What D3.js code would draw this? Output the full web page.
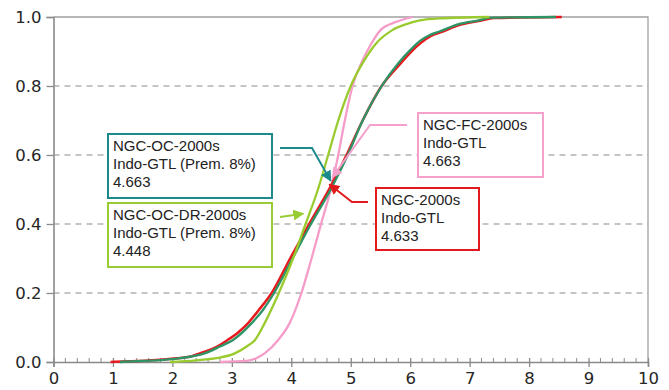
<!DOCTYPE html>
<html>
<head>
<meta charset="utf-8">
<script src="https://cdn.jsdelivr.net/npm/d3@7"></script>
<style>
  html, body { margin: 0; padding: 0; background: #fff; }
  svg { display: block; }
  .tick text { font-family: "DejaVu Sans", sans-serif; font-size: 16.5px; fill: #262626; }
  .note { font-family: "Liberation Sans", Arial, sans-serif; font-size: 15px; fill: #222; }
</style>
</head>
<body>
<svg id="chart" width="669" height="390"></svg>
<script>
// Cumulative distributions of GTL cost, [value, cumulative probability]
const ngc2000s = [
  [0.96,0],[1.3,0.002],[1.73,0.006],[2.07,0.011],[2.29,0.015],[2.46,0.025],[2.7,0.04],
  [2.93,0.064],[3.1,0.085],[3.27,0.112],[3.45,0.15],[3.67,0.2],[3.98,0.3],[4.3,0.4],
  [4.633,0.5],[4.93,0.6],[5.2,0.7],[5.52,0.8],[5.82,0.862],[6.02,0.9],[6.18,0.925],
  [6.35,0.945],[6.52,0.956],[6.85,0.978],[7.2,0.99],[7.4,0.997],[8.55,1]
];
const ngcOc2000s = [
  [1.12,0],[1.5,0.003],[1.85,0.006],[2.13,0.011],[2.54,0.025],[2.8,0.045],[3.02,0.064],
  [3.33,0.112],[3.52,0.15],[3.71,0.2],[4.02,0.3],[4.33,0.4],[4.663,0.5],[4.95,0.6],
  [5.2,0.7],[5.52,0.8],[5.8,0.866],[6.0,0.904],[6.16,0.93],[6.33,0.948],[6.49,0.958],
  [6.83,0.98],[7.17,0.991],[7.35,0.998],[8.45,1]
];
const ngcOcDr2000s = [
  [1.96,0],[2.4,0.005],[2.74,0.011],[3.05,0.025],[3.25,0.045],[3.39,0.064],[3.55,0.112],
  [3.79,0.2],[4.03,0.3],[4.24,0.4],[4.448,0.5],[4.62,0.6],[4.79,0.7],
  [5.0,0.8],[5.23,0.875],[5.43,0.924],[5.7,0.962],[5.95,0.98],[6.16,0.99],[6.49,0.996],
  [7.33,1]
];
const ngcFc2000s = [
  [2.8,0],[3.25,0.003],[3.41,0.011],[3.55,0.025],[3.78,0.064],[3.97,0.112],[4.17,0.2],
  [4.34,0.3],[4.5,0.4],[4.663,0.5],[4.79,0.6],[4.9,0.7],[5.03,0.8],
  [5.2,0.875],[5.35,0.924],[5.5,0.962],[5.75,0.985],[6.04,1]
];

const seriesNames = ["NGC-FC-2000s", "NGC-2000s", "NGC-OC-2000s", "NGC-OC-DR-2000s"];
const seriesColors = ["#f59cc8", "#e8191e", "#2e9466", "#9acb2e"];
const seriesData = [ngcFc2000s, ngc2000s, ngcOc2000s, ngcOcDr2000s];

const xTicks = [0,1,2,3,4,5,6,7,8,9,10];
const yTicks = [0,0.2,0.4,0.6,0.8,1.0];

// Callout texts: median of each distribution
const noteLines = [
  ["NGC-OC-2000s", "Indo-GTL (Prem. 8%)", "4.663"],
  ["NGC-OC-DR-2000s", "Indo-GTL (Prem. 8%)", "4.448"],
  ["NGC-FC-2000s", "Indo-GTL", "4.663"],
  ["NGC-2000s", "Indo-GTL", "4.633"]
];

const svg = d3.select("#chart");
const x = d3.scaleLinear().domain([0, 10]).range([53.5, 648]);
const y = d3.scaleLinear().domain([0, 1]).range([362, 17]);
const axisColor = "#8a8a8a";

// dashed horizontal grid
svg.append("g").selectAll("line")
  .data(yTicks.filter(t => t > 0 && t < 1))
  .join("line")
  .attr("x1", x(0)).attr("x2", x(10))
  .attr("y1", d => y(d)).attr("y2", d => y(d))
  .attr("stroke", "#8c8c8c").attr("stroke-width", 1.2)
  .attr("stroke-dasharray", "6,5");

// frame: top and right edges
svg.append("path")
  .attr("d", `M${x(0)},${y(1)}H${x(10)}V${y(0)}`)
  .attr("fill", "none").attr("stroke", "#a0a0a0").attr("stroke-width", 1.3);

// y axis
const yAxis = svg.append("g")
  .attr("transform", `translate(${x(0)},0)`)
  .call(d3.axisLeft(y).tickValues(yTicks).tickFormat(d3.format(".1f")).tickSize(7).tickPadding(5));
yAxis.select(".domain").attr("stroke", axisColor).attr("stroke-width", 1.6);
yAxis.selectAll(".tick line").attr("stroke", axisColor).attr("stroke-width", 1.3);

// x axis minor ticks (upward)
svg.append("g").selectAll("line")
  .data(d3.range(0, 50).map(i => i * 0.2).filter(v => Math.abs(v - Math.round(v)) > 1e-6))
  .join("line")
  .attr("x1", d => x(d)).attr("x2", d => x(d))
  .attr("y1", y(0)).attr("y2", y(0) - 4)
  .attr("stroke", axisColor).attr("stroke-width", 1);

// x axis
const xAxis = svg.append("g")
  .attr("transform", `translate(0,${y(0)})`)
  .call(d3.axisBottom(x).tickValues(xTicks).tickFormat(d3.format("d")).tickSize(5).tickPadding(5));
xAxis.select(".domain").attr("stroke", axisColor).attr("stroke-width", 1.6);
xAxis.selectAll(".tick line").attr("stroke", axisColor).attr("stroke-width", 1.3)
  .attr("y1", -4);

// distribution curves
const line = d3.line().x(d => x(d[0])).y(d => y(d[1])).curve(d3.curveMonotoneX);
svg.append("g").selectAll("path")
  .data(seriesData)
  .join("path")
  .attr("d", line)
  .attr("fill", "none")
  .attr("stroke", (d, i) => seriesColors[i])
  .attr("stroke-width", (d, i) => i === 1 ? 2.5 : 2.3)
  .attr("stroke-linejoin", "round");

// callouts: boxes, labels and arrows to the curves
const callouts = [
  { box: [108, 134, 164, 64], color: "#1c8a8c", path: [[280, 148], [312, 148]], tip: [4.663, 0.525] },
  { box: [108, 203, 164, 64], color: "#99cc33", path: [[280, 217]], tip: [4.2, 0.43] },
  { box: [418, 113, 125, 64], color: "#f5a0cb", path: [[407, 125], [370, 125]], tip: [4.69, 0.535] },
  { box: [376, 188, 103, 62], color: "#e31a1c", path: [[368, 202], [352, 202]], tip: [4.64, 0.515] }
];

const defs = svg.append("defs");
callouts.forEach((c, i) => {
  defs.append("marker")
    .attr("id", "arrow" + i)
    .attr("viewBox", "0 0 10 10")
    .attr("refX", 9).attr("refY", 5)
    .attr("markerWidth", 5.5).attr("markerHeight", 5.5)
    .attr("markerUnits", "strokeWidth")
    .attr("orient", "auto")
    .append("path").attr("d", "M0,0L10,5L0,10Z").attr("fill", c.color);
});

const notes = svg.append("g");
callouts.forEach((c, i) => {
  const [bx, by, bw, bh] = c.box;
  notes.append("rect")
    .attr("x", bx).attr("y", by).attr("width", bw).attr("height", bh)
    .attr("fill", "#fff").attr("stroke", c.color).attr("stroke-width", 2);
  notes.append("text").attr("class", "note")
    .selectAll("tspan").data(noteLines[i]).join("tspan")
    .attr("x", bx + 5).attr("y", (d, k) => by + 17 + k * 17.8)
    .text(d => d);
  const pts = c.path.concat([[x(c.tip[0]), y(c.tip[1])]]);
  notes.append("path")
    .attr("d", d3.line()(pts))
    .attr("fill", "none").attr("stroke", c.color).attr("stroke-width", 2)
    .attr("marker-end", `url(#arrow${i})`);
});
</script>
</body>
</html>
